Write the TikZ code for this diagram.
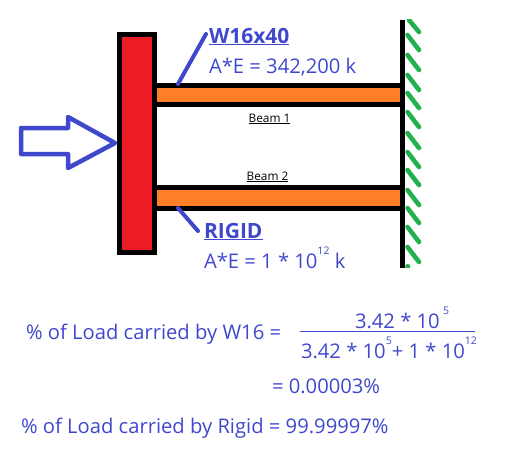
\documentclass[tikz,border=0pt]{standalone}
\usepackage{fontspec}
\setmainfont{Open Sans}
\definecolor{ublue}{HTML}{3F48CC}
\definecolor{ugreen}{HTML}{22B14C}
\definecolor{uorange}{HTML}{FF7F27}
\definecolor{ured}{HTML}{ED1C24}
\newcommand{\sz}[1]{\fontsize{#1}{#1}\selectfont}
\newcommand{\sups}[1]{\raisebox{0.68em}{\sz{10.5}#1}}
\tikzset{
  blk/.style={line width=5pt,draw=black},
  lead/.style={line width=4pt,draw=ublue,line cap=round},
  hatchline/.style={line width=4.6pt,draw=ugreen,line cap=round},
  txt/.style={anchor=base west,inner sep=0pt,outer sep=0pt,text=ublue,font=\sz{20.2}},
  head/.style={txt,font=\sz{21}\bfseries},
  beamlbl/.style={anchor=base,inner sep=0pt,text=black,font=\sz{11.8}},
}
\begin{document}
\begin{tikzpicture}[x=1pt,y=-1pt]
\useasboundingbox (0,0) rectangle (511,453);
% hatch
\foreach \yy in {35,55,75,93,112,133,152,170,190,208,227,247}
  \draw[hatchline] (407.5,\yy) -- (419,\yy+15);
\draw[hatchline] (409,20) -- (419,32);
\fill[white] (400,0) rectangle (430,19);
\fill[white] (400,268) rectangle (430,285);
\draw[hatchline] (407.5,266.5) -- (408,266.5);
\fill[white] (400,268) rectangle (430,285);
% beams
\node[draw=none,fill=uorange,minimum width=244pt,minimum height=14pt,inner sep=0pt,outer sep=0pt,anchor=west] (beamA) at (157,95) {};
\node[draw=none,fill=uorange,minimum width=243pt,minimum height=16pt,inner sep=0pt,outer sep=0pt,anchor=west] (beamB) at (157,198) {};
\draw[blk] (157,85.5) -- (402,85.5);
\draw[blk] (157,104.5) -- (402,104.5);
\draw[blk] (157,187.5) -- (402,187.5);
\draw[blk] (157,208.5) -- (402,208.5);
% wall
\draw[line width=5pt,draw=black] (402,20) -- (402,268);
% column
\node[draw=black,line width=5pt,fill=ured,minimum width=35pt,minimum height=218pt,inner sep=0pt,outer sep=0pt,anchor=north west] (col) at (119.5,34.5) {};
% load arrow
\draw[line width=4.5pt,draw=ublue,line join=round,fill=white] (21,128) -- (68,128) -- (68,117) -- (115,143) -- (68,168) -- (68,154) -- (21,154) -- cycle;
% labels
\node[head] (w) at (209,43) {\underline{W16x40}};
\node[txt] (wae) at (209,73) {A*E = 342,200 k};
\node[beamlbl] (b1) at (269.5,122) {\underline{Beam 1}};
\node[beamlbl] (b2) at (267.5,180) {\underline{Beam 2}};
\node[head] (r) at (204,238) {\underline{RIGID}};
\node[txt] (rae) at (204,268) {A*E = 1 * 10\sups{12} k};
% leaders
\coordinate (la) at (178,84);
\coordinate (lb) at (178,208);
\draw[lead] (la) -- (206,34);
\draw[lead] (lb) -- (198,231);
% equations
\node[txt] (e1) at (26,339) {\% of Load carried by W16 =};
\node[txt] (n) at (355,328) {3.42 * 10\,\sups{5}};
\node[txt] (d) at (301,358) {3.42 * 10\sups{5}+ 1 * 10\sups{12}};
\draw[line width=1pt,draw=ublue] (300,331.5) -- (475,331.5);
\node[txt] (e2) at (272,393) {= 0.00003\%};
\node[txt] (e3) at (21,433) {\% of Load carried by Rigid = 99.99997\%};
\end{tikzpicture}
\end{document}
